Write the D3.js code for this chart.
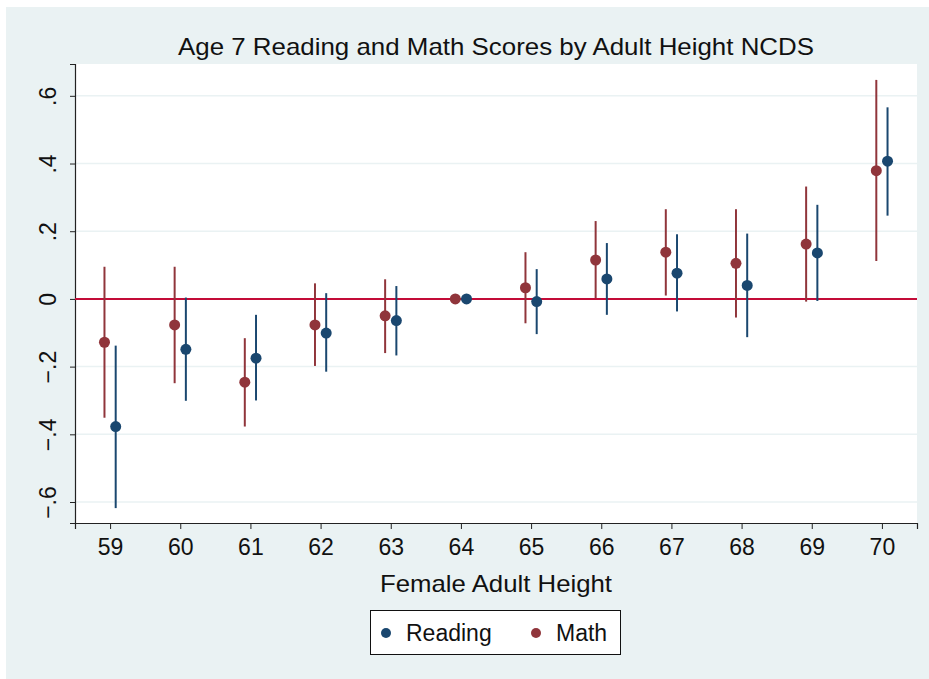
<!DOCTYPE html>
<html>
<head>
<meta charset="utf-8">
<script src="https://cdn.jsdelivr.net/npm/d3@7"></script>
<style>
  body { margin: 0; background: #fff; }
  text { font-family: "Liberation Sans", Arial, sans-serif; fill: #111; }
</style>
</head>
<body>
<svg id="chart" width="929" height="679"></svg>
<script>
// heights (inches) and estimates with 95% CI
const heights = [59, 60, 61, 62, 63, 64, 65, 66, 67, 68, 69, 70];
const math_est = [-0.128, -0.077, -0.246, -0.077, -0.050, 0, 0.033, 0.115, 0.138, 0.105, 0.162, 0.379];
const math_lo  = [-0.351, -0.249, -0.377, -0.198, -0.160, 0, -0.072, 0.002, 0.010, -0.055, -0.008, 0.112];
const math_hi  = [0.095, 0.095, -0.116, 0.046, 0.058, 0, 0.138, 0.230, 0.265, 0.265, 0.332, 0.647];
const read_est = [-0.377, -0.149, -0.175, -0.101, -0.064, 0, -0.008, 0.059, 0.076, 0.040, 0.136, 0.407];
const read_lo  = [-0.618, -0.301, -0.300, -0.215, -0.167, 0, -0.104, -0.047, -0.037, -0.113, -0.006, 0.246];
const read_hi  = [-0.138, 0.004, -0.047, 0.017, 0.038, 0, 0.088, 0.165, 0.191, 0.193, 0.278, 0.566];
const y_ticks = [-0.6, -0.4, -0.2, 0, 0.2, 0.4, 0.6];

const navy = "#1a476f";
const maroon = "#90353b";

let svg = d3.select("#chart");

// graph region
svg.append("rect")
    .attr("x", 6).attr("y", 7)
    .attr("width", 923).attr("height", 672)
    .attr("fill", "#eaf2f3");

const plot = { left: 75, right: 917, top: 64, bottom: 523 };

svg.append("rect")
    .attr("x", plot.left).attr("y", plot.top)
    .attr("width", plot.right - plot.left).attr("height", plot.bottom - plot.top)
    .attr("fill", "#fff");

let x = d3.scaleLinear().domain([58.5, 70.5]).range([plot.left, plot.right]);
let y = d3.scaleLinear().domain([-0.662, 0.694]).range([plot.bottom, plot.top]);

// gridlines
svg.append("g")
    .selectAll("line")
    .data(y_ticks.filter(d => d !== 0))
    .enter()
    .append("line")
    .attr("x1", plot.left).attr("x2", plot.right)
    .attr("y1", d => y(d)).attr("y2", d => y(d))
    .attr("stroke", "#eaf2f3")
    .attr("stroke-width", 1.5);

// y axis
let yAxis = svg.append("g")
    .attr("transform", "translate(" + plot.left + ",0)")
    .call(d3.axisLeft(y).tickValues(y_ticks).tickSize(5).tickPadding(0)
        .tickFormat(d => d === 0 ? "0" : d3.format(".1f")(d).replace("0.", ".")));
yAxis.select(".domain").attr("stroke", "#222").attr("stroke-width", 1.2);
yAxis.selectAll(".tick line").attr("stroke", "#222");
yAxis.selectAll(".tick text")
    .attr("font-size", 23)
    .attr("text-anchor", "middle")
    .attr("x", 0).attr("dy", 0)
    .attr("transform", "translate(-19,0) rotate(-90)");

// x axis
let xAxis = svg.append("g")
    .attr("transform", "translate(0," + plot.bottom + ")")
    .call(d3.axisBottom(x).tickValues(heights).tickSize(6).tickPadding(9).tickFormat(d3.format("d")));
xAxis.select(".domain").attr("stroke", "#222").attr("stroke-width", 1.2);
xAxis.selectAll(".tick line").attr("stroke", "#222");
xAxis.selectAll(".tick text").attr("font-size", 23).attr("dy", "0.75em");

// zero reference line
svg.append("line")
    .attr("x1", plot.left).attr("x2", plot.right)
    .attr("y1", y(0)).attr("y2", y(0))
    .attr("stroke", "#c30c38")
    .attr("stroke-width", 2);

let series = [
    { name: "Math", color: maroon, offset: -0.08, est: math_est, lo: math_lo, hi: math_hi },
    { name: "Reading", color: navy, offset: 0.08, est: read_est, lo: read_lo, hi: read_hi }
];

series.forEach(function (s) {
    let rows = heights.map((h, i) => ({ h: h, est: s.est[i], lo: s.lo[i], hi: s.hi[i] }));
    let g = svg.append("g");
    g.selectAll("line")
        .data(rows.filter(d => d.hi > d.lo))
        .enter()
        .append("line")
        .attr("x1", d => x(d.h + s.offset)).attr("x2", d => x(d.h + s.offset))
        .attr("y1", d => y(d.lo)).attr("y2", d => y(d.hi))
        .attr("stroke", s.color)
        .attr("stroke-width", 2);
    g.selectAll("circle")
        .data(rows)
        .enter()
        .append("circle")
        .attr("cx", d => x(d.h + s.offset))
        .attr("cy", d => y(d.est))
        .attr("r", 5.5)
        .attr("fill", s.color);
});

// titles
svg.append("text")
    .attr("x", (plot.left + plot.right) / 2).attr("y", 55)
    .attr("text-anchor", "middle")
    .attr("font-size", 24)
    .attr("textLength", 636)
    .attr("lengthAdjust", "spacingAndGlyphs")
    .text("Age 7 Reading and Math Scores by Adult Height NCDS");

svg.append("text")
    .attr("x", (plot.left + plot.right) / 2).attr("y", 592)
    .attr("text-anchor", "middle")
    .attr("font-size", 24)
    .attr("textLength", 232)
    .attr("lengthAdjust", "spacingAndGlyphs")
    .text("Female Adult Height");

// legend
let legend = svg.append("g");
legend.append("rect")
    .attr("x", 370.5).attr("y", 610.5)
    .attr("width", 250).attr("height", 44)
    .attr("fill", "#fff")
    .attr("stroke", "#111")
    .attr("stroke-width", 1);

let legend_items = [
    { name: "Reading", color: navy, x: 386 },
    { name: "Math", color: maroon, x: 536 }
];
legend.selectAll("circle")
    .data(legend_items)
    .enter()
    .append("circle")
    .attr("cx", d => d.x).attr("cy", 633)
    .attr("r", 5)
    .attr("fill", d => d.color);
legend.selectAll("text")
    .data(legend_items)
    .enter()
    .append("text")
    .attr("x", d => d.x + 20).attr("y", 641)
    .attr("font-size", 23)
    .text(d => d.name);
</script>
</body>
</html>
